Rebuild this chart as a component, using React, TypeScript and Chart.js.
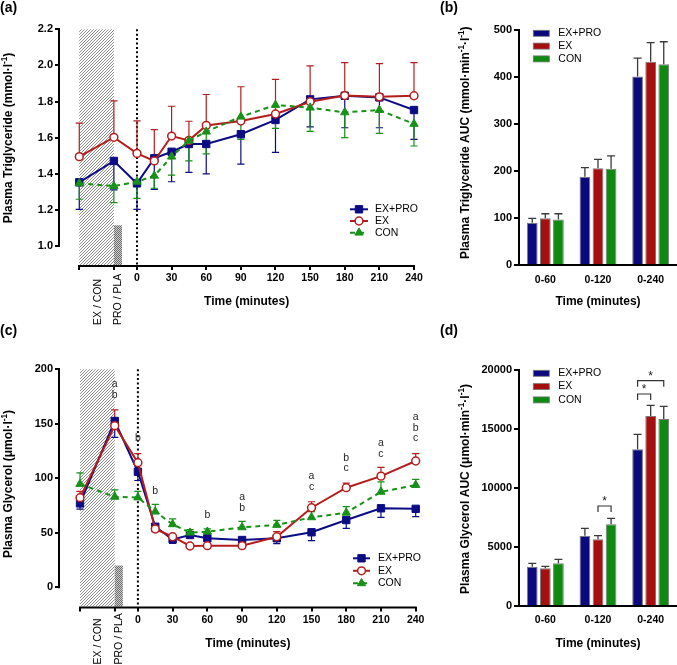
import React, { useEffect, useRef } from 'react';
import { Chart, registerables } from 'chart.js';

Chart.register(...registerables);

const FONT = '"Liberation Sans", Arial, Helvetica, sans-serif';
Chart.defaults.font.family = FONT;

// ---------- shared ----------
const seriesNames = ['EX+PRO', 'EX', 'CON'];
const timePoints = [-50, -20, 0, 15, 30, 45, 60, 90, 120, 150, 180, 210, 240];
const timeTickValues = [-50, -20, 0, 30, 60, 90, 120, 150, 180, 210, 240];
const preTimeLabels = ['EX / CON', 'PRO / PLA'];
const preTimeLabelAt = [-34, -16.5];
const hatchWindow = [-50, -20];
const supplementWindow = [-20, -13];
const aucCategories = ['0-60', '0-120', '0-240'];

// ---------- (a) plasma triglyceride ----------
const tgTicks = [1.0, 1.2, 1.4, 1.6, 1.8, 2.0, 2.2];
const tgExPro = [1.353, 1.471, 1.347, 1.486, 1.522, 1.565, 1.565, 1.619, 1.698, 1.812, 1.832, 1.823, 1.753];
const tgExProSem = [0.15, 0.16, 0.144, 0.172, 0.166, 0.157, 0.166, 0.165, 0.179, 0.152, 0.177, 0.168, 0.162];
const tgEx = [1.495, 1.602, 1.513, 1.471, 1.609, 1.585, 1.668, 1.692, 1.731, 1.799, 1.833, 1.826, 1.832];
const tgExSem = [0.186, 0.202, 0.18, 0.173, 0.165, 0.106, 0.171, 0.19, 0.192, 0.198, 0.182, 0.184, 0.183];
const tgCon = [1.347, 1.332, 1.356, 1.389, 1.495, 1.583, 1.633, 1.716, 1.781, 1.766, 1.74, 1.753, 1.676];
const tgConSem = [0.088, 0.092, 0.092, 0.069, 0.102, 0.112, 0.123, 0.126, 0.129, 0.131, 0.14, 0.129, 0.122];

// ---------- (b) triglyceride AUC ----------
const tgAucTicks = [0, 100, 200, 300, 400, 500];
const tgAucExPro = [90, 188, 401];
const tgAucExProSem = [9.4, 19, 39];
const tgAucEx = [99.4, 205.7, 432.6];
const tgAucExSem = [9.6, 19.2, 40.4];
const tgAucCon = [97, 205, 427];
const tgAucConSem = [12, 27, 48];

// ---------- (c) plasma glycerol ----------
const glyTicks = [0, 50, 100, 150, 200];
const glyExPro = [77, 152.6, 106, 55.6, 44, 48, 45, 43.4, 45, 50.5, 61.7, 72.5, 72];
const glyExProSem = [5.2, 15, 8, 4.6, 3.6, 3, 2, 2.4, 5, 7.7, 7.7, 8.3, 7.2];
const glyEx = [82.2, 148.3, 114.3, 53.5, 46.4, 37.9, 38.2, 38.2, 46.4, 73, 91.4, 102, 115.9];
const glyExSem = [5.8, 14.4, 8.3, 2.5, 1.6, 1.6, 1.3, 1.3, 4.6, 5.5, 4.2, 8, 6.7];
const glyCon = [94.8, 83, 82.4, 69.4, 57.8, 50.1, 51, 55, 57.2, 64.2, 68.4, 87.6, 93.8];
const glyConSem = [10.1, 6.3, 5.6, 6.7, 4.9, 2.9, 2.6, 5.5, 4.3, 5.2, 5.6, 9.2, 5.2];
const glyLetterAt = [-20, 0, 15, 60, 90, 150, 180, 210, 240];
const glyLetters = [['a', 'b'], ['b'], ['b'], ['b'], ['a', 'b'], ['a', 'c'], ['b', 'c'], ['a', 'c'], ['a', 'b', 'c']];
const glyLetterBase = [176.4, 136.9, 87.8, 66.4, 73.1, 91.7, 109, 122.3, 136.5];

// ---------- (d) glycerol AUC ----------
const glyAucTicks = [0, 5000, 10000, 15000, 20000];
const glyAucExPro = [3331, 5960, 13277];
const glyAucExProSem = [285, 620, 1273];
const glyAucEx = [3192, 5650, 16100];
const glyAucExSem = [172, 310, 910];
const glyAucCon = [3616, 6920, 15850];
const glyAucConSem = [339, 510, 1075];
const sigCategory = [1, 2, 2];
const sigFrom = [1, 0, 0];
const sigTo = [2, 1, 2];
const sigLevel = [8475, 17966, 19093];
const sigMark = ['*', '*', '*'];

// ---------- styles ----------
const lineColors = ['#0b0b86', '#b51d1d', '#179117'];
const barColors = ['#0a0a7e', '#a50f0f', '#0f8a10'];
const markerStyles = ['rect', 'circle', 'triangle'];
const markerRadius = [5.2, 3.9, 4.8];

type Seg = { t: string; sup?: boolean };

function drawRich(ctx: CanvasRenderingContext2D, segs: Seg[], x: number, y: number, size: number, rotated: boolean) {
  ctx.save();
  ctx.translate(x, y);
  if (rotated) ctx.rotate(-Math.PI / 2);
  const fontFor = (s: Seg) => `bold ${s.sup ? size * 0.68 : size}px ${FONT}`;
  const widths = segs.map((s) => {
    ctx.font = fontFor(s);
    return ctx.measureText(s.t).width;
  });
  const total = widths.reduce((a, b) => a + b, 0);
  let cx = -total / 2;
  ctx.fillStyle = '#000';
  ctx.textAlign = 'left';
  ctx.textBaseline = 'middle';
  segs.forEach((s, i) => {
    ctx.font = fontFor(s);
    ctx.fillText(s.t, cx, s.sup ? -size * 0.36 : 0);
    cx += widths[i];
  });
  ctx.restore();
}

function hatchFill(ctx: CanvasRenderingContext2D) {
  const c = document.createElement('canvas');
  c.width = 6;
  c.height = 6;
  const g = c.getContext('2d')!;
  g.fillStyle = '#ffffff';
  g.fillRect(0, 0, 6, 6);
  g.strokeStyle = '#8d8d8d';
  g.lineWidth = 1;
  for (const k of [-6, -3, 0, 3, 6]) {
    g.beginPath();
    g.moveTo(k, 6);
    g.lineTo(k + 6, 0);
    g.stroke();
  }
  return ctx.createPattern(c, 'repeat')!;
}

function denseFill(ctx: CanvasRenderingContext2D) {
  const c = document.createElement('canvas');
  c.width = 2;
  c.height = 2;
  const g = c.getContext('2d')!;
  g.fillStyle = '#cfcfcf';
  g.fillRect(0, 0, 2, 2);
  g.fillStyle = '#6c6c6c';
  g.fillRect(0, 0, 1, 1);
  g.fillRect(1, 1, 1, 1);
  return ctx.createPattern(c, 'repeat')!;
}

function drawMarker(ctx: CanvasRenderingContext2D, style: string, x: number, y: number, r: number, fill: string, stroke: string, lw: number) {
  ctx.beginPath();
  if (style === 'rect') {
    const s = Math.SQRT1_2 * r;
    ctx.rect(x - s, y - s, 2 * s, 2 * s);
  } else if (style === 'circle') {
    ctx.arc(x, y, r, 0, Math.PI * 2);
  } else {
    ctx.moveTo(x, y - r);
    ctx.lineTo(x + Math.sin((2 * Math.PI) / 3) * r, y + 0.5 * r);
    ctx.lineTo(x - Math.sin((2 * Math.PI) / 3) * r, y + 0.5 * r);
    ctx.closePath();
  }
  ctx.fillStyle = fill;
  ctx.fill();
  ctx.lineWidth = lw;
  ctx.strokeStyle = stroke;
  ctx.stroke();
}

const tickFontY = { family: FONT, size: 11, weight: 'bold' as const };
const tickFontX = { family: FONT, size: 10.5, weight: 'bold' as const };

// ---------- line panel ----------
interface LinePanel {
  width: number;
  height: number;
  series: number[][];
  sems: number[][];
  errDirs: number[];
  xMin: number;
  yMin: number;
  yMax: number;
  yTicks: number[];
  yDecimals: number;
  padTop: number;
  padRight: number;
  yAxisWidth: number;
  xAxisHeight: number;
  supplementTop: number;
  legend: { x0: number; x1: number; tx: number; y0: number; dy: number };
  yTitle: Seg[];
  yTitleX: number;
  yTitleY: number;
  xTitleDy: number;
  rotLabelDy: number;
  panelLabel: string;
  panelLabelY: number;
  letters?: { at: number[]; text: string[][]; base: number[] };
}

function lineConfig(p: LinePanel): any {
  const plugin = {
    id: 'linePanel',
    beforeDatasetsDraw(chart: any) {
      const { ctx, chartArea: ca } = chart;
      const x = chart.scales.x;
      const y = chart.scales.y;
      ctx.save();
      const hx0 = x.getPixelForValue(hatchWindow[0]);
      const hx1 = x.getPixelForValue(hatchWindow[1]);
      ctx.fillStyle = hatchFill(ctx);
      ctx.fillRect(hx0, ca.top, hx1 - hx0, ca.bottom - ca.top);
      const sx0 = x.getPixelForValue(supplementWindow[0]);
      const sx1 = x.getPixelForValue(supplementWindow[1]);
      const sy = y.getPixelForValue(p.supplementTop);
      ctx.fillStyle = denseFill(ctx);
      ctx.fillRect(sx0, sy, sx1 - sx0, ca.bottom - sy);
      // dotted line at time 0
      const zx = x.getPixelForValue(0);
      ctx.strokeStyle = '#000';
      ctx.lineWidth = 2;
      ctx.setLineDash([2, 2.4]);
      ctx.beginPath();
      ctx.moveTo(zx, ca.top);
      ctx.lineTo(zx, ca.bottom);
      ctx.stroke();
      ctx.setLineDash([]);
      // axis lines
      ctx.lineWidth = 2;
      ctx.beginPath();
      ctx.moveTo(ca.left - 1, y.getPixelForValue(p.yTicks[p.yTicks.length - 1]) - 1);
      ctx.lineTo(ca.left - 1, y.getPixelForValue(p.yTicks[0]) + 1);
      ctx.moveTo(x.getPixelForValue(timeTickValues[0]) - 1, ca.bottom + 1);
      ctx.lineTo(x.getPixelForValue(timeTickValues[timeTickValues.length - 1]) + 1, ca.bottom + 1);
      ctx.stroke();
      // error bars
      chart.data.datasets.forEach((ds: any, i: number) => {
        const meta = chart.getDatasetMeta(i);
        ctx.strokeStyle = ds.borderColor;
        ctx.lineWidth = 1.2;
        meta.data.forEach((pt: any, j: number) => {
          const v = ds.data[j].y;
          const ey = y.getPixelForValue(v + ds.errDir * ds.sem[j]);
          ctx.beginPath();
          ctx.moveTo(pt.x, pt.y);
          ctx.lineTo(pt.x, ey);
          ctx.moveTo(pt.x - 3.6, ey);
          ctx.lineTo(pt.x + 3.6, ey);
          ctx.stroke();
        });
      });
      ctx.restore();
    },
    afterDatasetsDraw(chart: any) {
      const { ctx } = chart;
      const x = chart.scales.x;
      const y = chart.scales.y;
      ctx.save();
      // legend
      const lg = p.legend;
      chart.data.datasets.forEach((ds: any, i: number) => {
        const yy = lg.y0 + i * lg.dy;
        ctx.strokeStyle = ds.borderColor;
        ctx.lineWidth = 2;
        ctx.setLineDash(ds.borderDash || []);
        ctx.beginPath();
        ctx.moveTo(lg.x0, yy);
        ctx.lineTo(lg.x1, yy);
        ctx.stroke();
        ctx.setLineDash([]);
        drawMarker(ctx, markerStyles[i], (lg.x0 + lg.x1) / 2, yy, markerRadius[i], ds.pointBackgroundColor, ds.borderColor, ds.pointBorderWidth);
        ctx.fillStyle = '#000';
        ctx.font = `10.5px ${FONT}`;
        ctx.textAlign = 'left';
        ctx.textBaseline = 'middle';
        ctx.fillText(ds.label, lg.tx, yy);
      });
      // significance letters
      if (p.letters) {
        ctx.fillStyle = '#262626';
        ctx.font = `10.5px ${FONT}`;
        ctx.textAlign = 'center';
        ctx.textBaseline = 'middle';
        p.letters.at.forEach((t, k) => {
          const px = x.getPixelForValue(t);
          const base = y.getPixelForValue(p.letters!.base[k]);
          const arr = p.letters!.text[k];
          arr.forEach((s, m) => {
            ctx.fillText(s, px, base - (arr.length - 1 - m) * 10.8);
          });
        });
      }
      ctx.restore();
    },
    afterDraw(chart: any) {
      const { ctx, chartArea: ca } = chart;
      const x = chart.scales.x;
      ctx.save();
      // rotated pre-exercise labels
      ctx.fillStyle = '#000';
      ctx.font = `10.5px ${FONT}`;
      ctx.textAlign = 'left';
      ctx.textBaseline = 'middle';
      preTimeLabels.forEach((t, k) => {
        ctx.save();
        ctx.translate(x.getPixelForValue(preTimeLabelAt[k]), ca.bottom + p.rotLabelDy);
        ctx.rotate(-Math.PI / 2);
        ctx.fillText(t, 0, 0);
        ctx.restore();
      });
      // x title
      const cx = (x.getPixelForValue(timeTickValues[0]) + x.getPixelForValue(timeTickValues[timeTickValues.length - 1])) / 2;
      drawRich(ctx, [{ t: 'Time (minutes)' }], cx, ca.bottom + p.xTitleDy, 12, false);
      // y title
      drawRich(ctx, p.yTitle, p.yTitleX, p.yTitleY, 12, true);
      // panel label
      ctx.fillStyle = '#000';
      ctx.font = `bold 14px ${FONT}`;
      ctx.textAlign = 'left';
      ctx.textBaseline = 'middle';
      ctx.fillText(p.panelLabel, 0, p.panelLabelY);
      ctx.restore();
    },
  };

  const grid = { display: true, drawOnChartArea: false, drawTicks: true, tickLength: 5, color: '#000', lineWidth: 2 };

  return {
    type: 'line',
    data: {
      datasets: p.series.map((vals, i) => ({
        label: seriesNames[i],
        data: timePoints.map((t, j) => ({ x: t, y: vals[j] })),
        borderColor: lineColors[i],
        backgroundColor: i === 1 ? '#ffffff' : lineColors[i],
        pointBackgroundColor: i === 1 ? '#ffffff' : lineColors[i],
        pointBorderColor: lineColors[i],
        pointStyle: markerStyles[i],
        pointRadius: markerRadius[i],
        pointBorderWidth: i === 1 ? 1.5 : 1,
        borderWidth: 2,
        borderDash: i === 2 ? [5, 4] : [],
        tension: 0,
        clip: false,
        order: 3 - i,
        sem: p.sems[i],
        errDir: p.errDirs[i],
      })),
    },
    options: {
      responsive: false,
      animation: false,
      events: [],
      layout: { padding: { left: 0, top: p.padTop, right: p.padRight, bottom: 0 } },
      plugins: { legend: { display: false }, tooltip: { enabled: false } },
      scales: {
        x: {
          type: 'linear',
          min: p.xMin,
          max: 240,
          afterBuildTicks: (s: any) => {
            s.ticks = timeTickValues.map((v) => ({ value: v }));
          },
          afterFit: (s: any) => {
            s.height = p.xAxisHeight;
          },
          ticks: {
            callback: (v: number) => (v < 0 ? '' : String(v)),
            font: tickFontX,
            color: '#000',
            padding: 2,
            maxRotation: 0,
            autoSkip: false,
          },
          grid,
          border: { display: false },
        },
        y: {
          type: 'linear',
          min: p.yMin,
          max: p.yMax,
          afterBuildTicks: (s: any) => {
            s.ticks = p.yTicks.map((v) => ({ value: v }));
          },
          afterFit: (s: any) => {
            s.width = p.yAxisWidth;
          },
          ticks: {
            callback: (v: number) => v.toFixed(p.yDecimals),
            font: tickFontY,
            color: '#000',
            padding: 2,
          },
          grid,
          border: { display: false },
        },
      },
    },
    plugins: [plugin],
  };
}

// ---------- bar panel ----------
interface BarPanel {
  width: number;
  height: number;
  series: number[][];
  sems: number[][];
  yTicks: number[];
  padTop: number;
  yAxisWidth: number;
  xAxisHeight: number;
  xTickPad: number;
  legend: { bx: number; bw: number; tx: number; y0: number; dy: number };
  yTitle: Seg[];
  yTitleX: number;
  yTitleY: number;
  xTitleDy: number;
  panelLabel: string;
  panelLabelY: number;
  brackets?: { cat: number[]; from: number[]; to: number[]; level: number[]; mark: string[] };
}

function barConfig(p: BarPanel): any {
  const plugin = {
    id: 'barPanel',
    afterDatasetsDraw(chart: any) {
      const { ctx } = chart;
      const y = chart.scales.y;
      ctx.save();
      // error bars
      chart.data.datasets.forEach((ds: any, i: number) => {
        const meta = chart.getDatasetMeta(i);
        ctx.strokeStyle = '#3a3a3a';
        ctx.lineWidth = 1.3;
        meta.data.forEach((bar: any, j: number) => {
          const ey = y.getPixelForValue(ds.data[j] + ds.sem[j]);
          ctx.beginPath();
          ctx.moveTo(bar.x, bar.y);
          ctx.lineTo(bar.x, ey);
          ctx.moveTo(bar.x - 4, ey);
          ctx.lineTo(bar.x + 4, ey);
          ctx.stroke();
        });
      });
      // significance brackets
      if (p.brackets) {
        const b = p.brackets;
        ctx.strokeStyle = '#333';
        ctx.lineWidth = 1.2;
        ctx.fillStyle = '#222';
        ctx.font = `12px ${FONT}`;
        ctx.textAlign = 'center';
        ctx.textBaseline = 'alphabetic';
        b.cat.forEach((c, k) => {
          const x1 = chart.getDatasetMeta(b.from[k]).data[c].x;
          const x2 = chart.getDatasetMeta(b.to[k]).data[c].x;
          const yy = y.getPixelForValue(b.level[k]);
          ctx.beginPath();
          ctx.moveTo(x1, yy + 6);
          ctx.lineTo(x1, yy);
          ctx.lineTo(x2, yy);
          ctx.lineTo(x2, yy + 6);
          ctx.stroke();
          ctx.fillText(b.mark[k], (x1 + x2) / 2, yy - 1);
        });
      }
      // legend
      const lg = p.legend;
      chart.data.datasets.forEach((ds: any, i: number) => {
        const yy = lg.y0 + i * lg.dy;
        ctx.fillStyle = ds.backgroundColor;
        ctx.fillRect(lg.bx, yy - 3, lg.bw, 6);
        ctx.strokeStyle = '#777';
        ctx.lineWidth = 0.8;
        ctx.strokeRect(lg.bx, yy - 3, lg.bw, 6);
        ctx.fillStyle = '#000';
        ctx.font = `10.5px ${FONT}`;
        ctx.textAlign = 'left';
        ctx.textBaseline = 'middle';
        ctx.fillText(ds.label, lg.tx, yy);
      });
      ctx.restore();
    },
    afterDraw(chart: any) {
      const { ctx, chartArea: ca } = chart;
      ctx.save();
      drawRich(ctx, [{ t: 'Time (minutes)' }], (ca.left + ca.right) / 2, ca.bottom + p.xTitleDy, 12, false);
      drawRich(ctx, p.yTitle, p.yTitleX, p.yTitleY, 12, true);
      ctx.fillStyle = '#000';
      ctx.font = `bold 14px ${FONT}`;
      ctx.textAlign = 'left';
      ctx.textBaseline = 'middle';
      ctx.fillText(p.panelLabel, 0, p.panelLabelY);
      ctx.restore();
    },
  };

  return {
    type: 'bar',
    data: {
      labels: aucCategories,
      datasets: p.series.map((vals, i) => ({
        label: seriesNames[i],
        data: vals,
        backgroundColor: barColors[i],
        borderColor: '#7a7a7a',
        borderWidth: 1,
        borderSkipped: 'bottom',
        categoryPercentage: 0.745,
        barPercentage: 0.82,
        sem: p.sems[i],
      })),
    },
    options: {
      responsive: false,
      animation: false,
      events: [],
      layout: { padding: { left: 0, top: p.padTop, right: 0, bottom: 0 } },
      plugins: { legend: { display: false }, tooltip: { enabled: false } },
      scales: {
        x: {
          type: 'category',
          afterFit: (s: any) => {
            s.height = p.xAxisHeight;
          },
          ticks: { font: tickFontX, color: '#000', padding: p.xTickPad, maxRotation: 0 },
          grid: { display: false, drawTicks: false },
          border: { display: true, color: '#000', width: 2 },
        },
        y: {
          type: 'linear',
          min: p.yTicks[0],
          max: p.yTicks[p.yTicks.length - 1],
          afterBuildTicks: (s: any) => {
            s.ticks = p.yTicks.map((v) => ({ value: v }));
          },
          afterFit: (s: any) => {
            s.width = p.yAxisWidth;
          },
          ticks: { callback: (v: number) => String(v), font: tickFontY, color: '#000', padding: 2 },
          grid: { display: true, drawOnChartArea: false, drawTicks: true, tickLength: 5, color: '#000', lineWidth: 2 },
          border: { display: true, color: '#000', width: 2 },
        },
      },
    },
    plugins: [plugin],
  };
}

// ---------- panel definitions ----------
const panelA: LinePanel = {
  width: 440,
  height: 330,
  series: [tgExPro, tgEx, tgCon],
  sems: [tgExProSem, tgExSem, tgConSem],
  errDirs: [-1, 1, -1],
  xMin: -66.7,
  yMin: 0.895,
  yMax: 2.2,
  yTicks: tgTicks,
  yDecimals: 1,
  padTop: 29.3,
  padRight: 26,
  yAxisWidth: 60,
  xAxisHeight: 65,
  supplementTop: 1.115,
  legend: { x0: 350, x1: 368, tx: 375, y0: 209.3, dy: 11.7 },
  yTitle: [{ t: 'Plasma Triglyceride (mmol·l' }, { t: '-1', sup: true }, { t: ')' }],
  yTitleX: 9,
  yTitleY: 138,
  xTitleDy: 36.7,
  rotLabelDy: 60,
  panelLabel: '(a)',
  panelLabelY: 8,
};

const panelC: LinePanel = {
  width: 440,
  height: 347,
  series: [glyExPro, glyEx, glyCon],
  sems: [glyExProSem, glyExSem, glyConSem],
  errDirs: [-1, 1, 1],
  xMin: -67.3,
  yMin: -17.6,
  yMax: 200,
  yTicks: glyTicks,
  yDecimals: 0,
  padTop: 51.3,
  padRight: 24.3,
  yAxisWidth: 60,
  xAxisHeight: 58.5,
  supplementTop: 20,
  legend: { x0: 353, x1: 370, tx: 378, y0: 240.3, dy: 12.5 },
  yTitle: [{ t: 'Plasma Glycerol (μmol·l' }, { t: '-1', sup: true }, { t: ')' }],
  yTitleX: 9,
  yTitleY: 166,
  xTitleDy: 36.8,
  rotLabelDy: 58,
  panelLabel: '(c)',
  panelLabelY: 13,
  letters: { at: glyLetterAt, text: glyLetters, base: glyLetterBase },
};

const panelB: BarPanel = {
  width: 237,
  height: 330,
  series: [tgAucExPro, tgAucEx, tgAucCon],
  sems: [tgAucExProSem, tgAucExSem, tgAucConSem],
  yTicks: tgAucTicks,
  padTop: 30,
  yAxisWidth: 79,
  xAxisHeight: 65,
  xTickPad: 9,
  legend: { bx: 93.3, bw: 16, tx: 118.3, y0: 33.3, dy: 12.8 },
  yTitle: [
    { t: 'Plasma Triglyceride AUC (mmol·min' },
    { t: '-1', sup: true },
    { t: '·l' },
    { t: '-1', sup: true },
    { t: ')' },
  ],
  yTitleX: 26,
  yTitleY: 142.7,
  xTitleDy: 37,
  panelLabel: '(b)',
  panelLabelY: 8,
};

const panelD: BarPanel = {
  width: 237,
  height: 347,
  series: [glyAucExPro, glyAucEx, glyAucCon],
  sems: [glyAucExProSem, glyAucExSem, glyAucConSem],
  yTicks: glyAucTicks,
  padTop: 52,
  yAxisWidth: 79,
  xAxisHeight: 59,
  xTickPad: 7.5,
  legend: { bx: 93.3, bw: 16, tx: 118.3, y0: 55.3, dy: 13.3 },
  yTitle: [
    { t: 'Plasma Glycerol AUC (μmol·min' },
    { t: '-1', sup: true },
    { t: '·l' },
    { t: '-1', sup: true },
    { t: ')' },
  ],
  yTitleX: 26,
  yTitleY: 171,
  xTitleDy: 37.3,
  panelLabel: '(d)',
  panelLabelY: 13,
  brackets: { cat: sigCategory, from: sigFrom, to: sigTo, level: sigLevel, mark: sigMark },
};

function ChartCanvas({ makeConfig, left, top, width, height }: { makeConfig: () => any; left: number; top: number; width: number; height: number }) {
  const ref = useRef<HTMLCanvasElement>(null);
  useEffect(() => {
    if (!ref.current) return;
    const chart = new Chart(ref.current, makeConfig());
    return () => chart.destroy();
  }, []);
  return (
    <canvas
      ref={ref}
      width={width}
      height={height}
      style={{ position: 'absolute', left, top, width, height }}
    />
  );
}

export default function App() {
  return (
    <div
      style={{
        position: 'absolute',
        left: 0,
        top: 0,
        width: 677,
        height: 665,
        background: '#ffffff',
        overflow: 'hidden',
      }}
    >
      <ChartCanvas makeConfig={() => lineConfig(panelA)} left={0} top={0} width={440} height={330} />
      <ChartCanvas makeConfig={() => barConfig(panelB)} left={440} top={0} width={237} height={330} />
      <ChartCanvas makeConfig={() => lineConfig(panelC)} left={0} top={318} width={440} height={347} />
      <ChartCanvas makeConfig={() => barConfig(panelD)} left={440} top={318} width={237} height={347} />
    </div>
  );
}
